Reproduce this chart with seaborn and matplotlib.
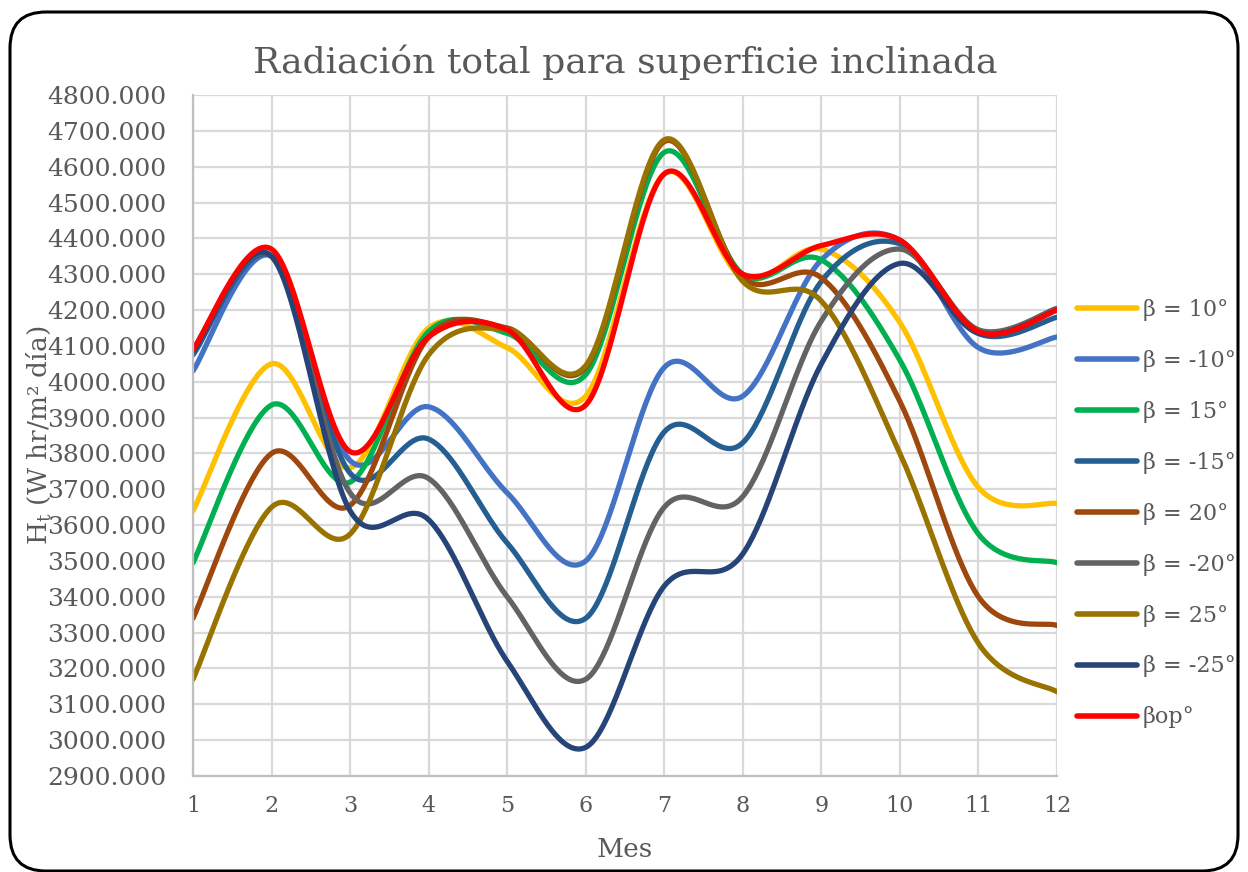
import numpy as np
import pandas as pd
import matplotlib
matplotlib.use('Agg')
import matplotlib.pyplot as plt
from matplotlib.patches import FancyBboxPatch
import seaborn as sns

# Monthly values
meses = list(range(1, 13))
b10 = [3640, 4050, 3760, 4150, 4095, 3960, 4580, 4290, 4370, 4165, 3705, 3660]
bm10 = [4030, 4350, 3780, 3930, 3690, 3500, 4040, 3960, 4340, 4395, 4095, 4125]
b15 = [3495, 3935, 3720, 4140, 4135, 4020, 4640, 4300, 4340, 4060, 3575, 3495]
bm15 = [4075, 4350, 3745, 3840, 3550, 3340, 3860, 3830, 4280, 4385, 4135, 4180]
b20 = [3340, 3800, 3655, 4125, 4150, 4040, 4670, 4290, 4290, 3945, 3400, 3320]
bm20 = [4090, 4350, 3690, 3730, 3400, 3170, 3650, 3680, 4170, 4370, 4145, 4205]
b25 = [3170, 3650, 3575, 4075, 4145, 4045, 4675, 4280, 4225, 3800, 3270, 3135]
bm25 = [4085, 4350, 3640, 3615, 3220, 2980, 3430, 3520, 4050, 4330, 4135, 4200]
bop = [4090, 4370, 3805, 4125, 4145, 3935, 4580, 4300, 4380, 4395, 4140, 4200]

series = ['β = 10°', 'β = -10°', 'β = 15°', 'β = -15°', 'β = 20°',
          'β = -20°', 'β = 25°', 'β = -25°', 'βop°']
values = [b10, bm10, b15, bm15, b20, bm20, b25, bm25, bop]
colors = ['#FFC000', '#4472C4', '#00B050', '#255E91', '#9E480E',
          '#636363', '#997300', '#264478', '#FF0000']


def smooth(x, y, n=40):
    # Excel-style smoothed line (Catmull-Rom bezier through the points)
    x = np.asarray(x, float)
    y = np.asarray(y, float)
    px = np.concatenate([[x[0]], x, [x[-1]]])
    py = np.concatenate([[y[0]], y, [y[-1]]])
    t = np.linspace(0, 1, n)[:, None]
    xs, ys = [], []
    for i in range(1, len(px) - 2):
        p0 = np.array([px[i], py[i]])
        p3 = np.array([px[i + 1], py[i + 1]])
        c1 = p0 + (p3 - np.array([px[i - 1], py[i - 1]])) / 6
        c2 = p3 - (np.array([px[i + 2], py[i + 2]]) - p0) / 6
        pts = ((1 - t) ** 3) * p0 + 3 * ((1 - t) ** 2) * t * c1 + 3 * (1 - t) * t ** 2 * c2 + t ** 3 * p3
        xs.extend(pts[:, 0])
        ys.extend(pts[:, 1])
    return xs, ys


rows = []
for name, v in zip(series, values):
    sx, sy = smooth(meses, v)
    for a, b in zip(sx, sy):
        rows.append({'Mes': a, 'H': b, 'serie': name})
df = pd.DataFrame(rows)

sns.set_style('white')
plt.rcParams['font.family'] = ['DejaVu Serif']
plt.rcParams['mathtext.fontset'] = 'dejavuserif'
txt = '#595959'

fig = plt.figure(figsize=(12.48, 8.72), dpi=100)
ax = fig.add_axes([193 / 1248, 1 - 776 / 872, 864 / 1248, 681 / 872])

sns.lineplot(ax=ax, data=df, x='Mes', y='H', hue='serie', hue_order=series,
             palette=colors, sort=False, estimator=None, units='serie',
             linewidth=3.8)

ax.set_xlim(1, 12)
ax.set_ylim(2900, 4800)
ax.set_xticks(meses)
ax.set_yticks(np.arange(2900, 4801, 100))
ax.set_yticklabels([f'{v:.3f}' for v in np.arange(2900, 4801, 100)])
ax.grid(True, color='#D9D9D9', linewidth=1.6)
ax.set_axisbelow(True)
for s in ['top', 'right']:
    ax.spines[s].set_visible(False)
for s in ['left', 'bottom']:
    ax.spines[s].set_color('#BFBFBF')
    ax.spines[s].set_linewidth(1.6)
ax.tick_params(axis='y', labelsize=18, colors=txt, length=0, pad=19)
ax.tick_params(axis='x', labelsize=16, colors=txt, length=0, pad=14)

ax.set_xlabel('Mes', fontsize=19, color=txt, labelpad=14)
ax.set_ylabel(r'H$_{\mathrm{t}}$ (W hr/m² día)', fontsize=19, color=txt, labelpad=-4)
ax.set_title('Radiación total para superficie inclinada', fontsize=26, color=txt, pad=16)

sns.move_legend(ax, 'center left', bbox_to_anchor=(1.0, 0.385), frameon=False,
                title=None, fontsize=16, handlelength=2.7, labelspacing=1.3,
                handletextpad=0.25, labelcolor=txt)
for h in ax.get_legend().get_lines():
    h.set_linewidth(4)

border = FancyBboxPatch((0.10, 0.01), 12.28, 8.59, boxstyle='round,pad=0,rounding_size=0.36',
                        transform=fig.dpi_scale_trans, fill=False, edgecolor='black',
                        linewidth=2.2, clip_on=False)
fig.patches.append(border)

plt.savefig('out.png', dpi=100)
